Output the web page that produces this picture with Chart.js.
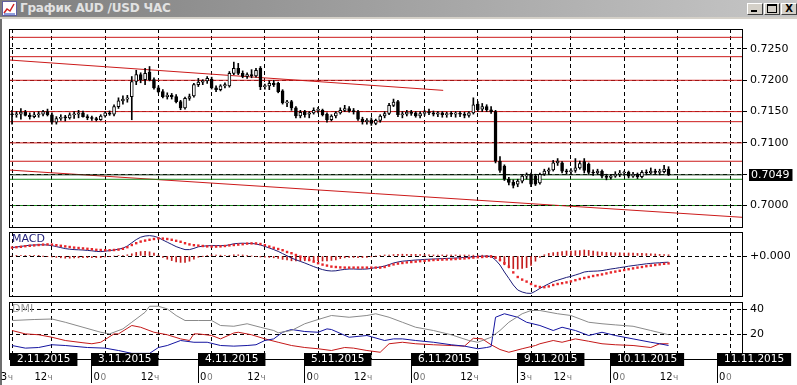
<!DOCTYPE html>
<html>
<head>
<meta charset="utf-8">
<title>AUD/USD H1</title>
<script src="https://cdn.jsdelivr.net/npm/chart.js@4.4.1/dist/chart.umd.min.js"></script>
<style>
  html, body { margin: 0; padding: 0; background: #fff; }
  #wrap { position: relative; width: 797px; height: 385px; overflow: hidden; background: #fff; }
  #wrap canvas { position: absolute; left: 0; top: 0; }
  #titlebar { position: absolute; left: 0; top: 0; width: 797px; height: 17px;
    background: linear-gradient(to right, #7e7e7e, #c6c6c6); border-bottom: 2px solid #d4d0c8; }
  #titlebar .caption { position: absolute; left: 20px; top: 1px; font: bold 12px "DejaVu Sans", sans-serif;
    color: #e2e2e2; white-space: nowrap; letter-spacing: -0.2px; }
  #icon { position: absolute; left: 2px; top: 1px; }
  .btn { position: absolute; top: 3px; width: 14px; height: 10px; background: #d4d0c8;
    border-top: 1px solid #fff; border-left: 1px solid #fff; border-right: 1px solid #404040; border-bottom: 1px solid #404040; }
  .btn.min i { position: absolute; left: 3px; top: 6px; width: 6px; height: 2px; background: #000; }
  .btn.max i { position: absolute; left: 2px; top: 0px; width: 8px; height: 6px; border: 1px solid #000; border-top-width: 2px; }
  .btn.cls { font: bold 10px "DejaVu Sans", sans-serif; line-height: 10px; text-align: center; color: #000; }
  #edge { position: absolute; left: 0; top: 19px; width: 2px; height: 366px; background: #6e6e6e; }
</style>
</head>
<body>
<div id="wrap">
  <div id="titlebar">
    <svg id="icon" width="15" height="15" viewBox="0 0 15 15">
      <rect x="0.5" y="0.5" width="14" height="14" fill="#fff" stroke="#6060a0"/>
      <polyline points="2,12 5,8 8,10 12,3" fill="none" stroke="#d02020" stroke-width="1.5"/>
      <polyline points="2,13 13,13" stroke="#2040c0" stroke-width="1"/>
    </svg>
    <span class="caption">График AUD /USD ЧАС</span>
    <div class="btn min" style="left:747px"><i></i></div>
    <div class="btn max" style="left:764px"><i></i></div>
    <div class="btn cls" style="left:781px">X</div>
  </div>
  <div id="edge"></div>
  <canvas id="main" width="797" height="385"></canvas>
  <canvas id="macd" width="797" height="385"></canvas>
  <canvas id="dmi" width="797" height="385"></canvas>
</div>
<script>
// hourly bars, 2.11.2015 03:00 .. 10.11.2015 10:00, [open, high, low, close]
const ohlc = [
  [0.7146,0.7152,0.7130,0.7145],[0.7145,0.7150,0.7141,0.7146],[0.7146,0.7155,0.7138,0.7149],[0.7149,0.7152,0.7143,0.7144],[0.7144,0.7148,0.7138,0.7142],
  [0.7142,0.7149,0.7140,0.7145],[0.7145,0.7150,0.7141,0.7146],[0.7146,0.7152,0.7143,0.7150],[0.7150,0.7154,0.7143,0.7145],[0.7145,0.7148,0.7130,0.7133],
  [0.7133,0.7142,0.7130,0.7139],[0.7139,0.7145,0.7136,0.7141],[0.7141,0.7144,0.7135,0.7140],[0.7140,0.7148,0.7138,0.7145],[0.7145,0.7150,0.7139,0.7146],
  [0.7146,0.7152,0.7140,0.7148],[0.7148,0.7151,0.7141,0.7142],[0.7142,0.7145,0.7137,0.7140],[0.7140,0.7143,0.7136,0.7139],[0.7139,0.7141,0.7135,0.7137],
  [0.7137,0.7145,0.7136,0.7143],[0.7143,0.7150,0.7141,0.7148],[0.7148,0.7151,0.7144,0.7146],[0.7146,0.7161,0.7143,0.7158],[0.7158,0.7172,0.7155,0.7167],
  [0.7167,0.7175,0.7162,0.7170],[0.7170,0.7176,0.7165,0.7172],[0.7174,0.7206,0.7137,0.7198],[0.7198,0.7216,0.7193,0.7209],[0.7209,0.7212,0.7196,0.7201],
  [0.7201,0.7219,0.7193,0.7211],[0.7213,0.7222,0.7199,0.7201],[0.7201,0.7204,0.7186,0.7188],[0.7188,0.7191,0.7180,0.7182],[0.7182,0.7185,0.7172,0.7174],
  [0.7174,0.7180,0.7170,0.7176],[0.7176,0.7179,0.7170,0.7174],[0.7174,0.7177,0.7164,0.7166],[0.7166,0.7168,0.7153,0.7156],[0.7156,0.7173,0.7154,0.7171],
  [0.7171,0.7178,0.7168,0.7174],[0.7175,0.7195,0.7173,0.7193],[0.7193,0.7203,0.7190,0.7197],[0.7197,0.7201,0.7193,0.7199],[0.7199,0.7206,0.7195,0.7203],
  [0.7202,0.7205,0.7186,0.7188],[0.7188,0.7191,0.7182,0.7185],[0.7185,0.7193,0.7183,0.7191],[0.7191,0.7196,0.7188,0.7193],[0.7191,0.7214,0.7189,0.7211],
  [0.7211,0.7229,0.7209,0.7219],[0.7219,0.7227,0.7209,0.7211],[0.7211,0.7215,0.7204,0.7206],[0.7206,0.7212,0.7203,0.7209],[0.7209,0.7217,0.7204,0.7207],
  [0.7207,0.7219,0.7205,0.7216],[0.7219,0.7222,0.7185,0.7190],[0.7190,0.7194,0.7186,0.7191],[0.7191,0.7199,0.7185,0.7195],[0.7195,0.7200,0.7190,0.7193],
  [0.7195,0.7197,0.7180,0.7182],[0.7183,0.7185,0.7162,0.7164],[0.7164,0.7168,0.7158,0.7165],[0.7166,0.7168,0.7152,0.7156],[0.7156,0.7158,0.7140,0.7143],
  [0.7143,0.7152,0.7140,0.7149],[0.7150,0.7152,0.7141,0.7145],[0.7146,0.7150,0.7140,0.7148],[0.7148,0.7156,0.7146,0.7152],[0.7152,0.7157,0.7148,0.7153],
  [0.7152,0.7154,0.7143,0.7145],[0.7146,0.7148,0.7133,0.7137],[0.7137,0.7145,0.7135,0.7143],[0.7143,0.7150,0.7140,0.7148],[0.7148,0.7156,0.7146,0.7152],
  [0.7152,0.7160,0.7150,0.7155],[0.7155,0.7158,0.7149,0.7151],[0.7151,0.7155,0.7146,0.7150],[0.7150,0.7152,0.7136,0.7138],[0.7138,0.7141,0.7130,0.7134],
  [0.7134,0.7139,0.7130,0.7136],[0.7137,0.7140,0.7128,0.7131],[0.7131,0.7138,0.7129,0.7136],[0.7136,0.7145,0.7133,0.7143],[0.7143,0.7150,0.7140,0.7147],
  [0.7147,0.7163,0.7145,0.7160],[0.7160,0.7170,0.7158,0.7165],[0.7166,0.7168,0.7142,0.7145],[0.7145,0.7150,0.7140,0.7146],[0.7146,0.7152,0.7143,0.7149],
  [0.7149,0.7152,0.7144,0.7147],[0.7148,0.7150,0.7141,0.7143],[0.7143,0.7150,0.7140,0.7147],[0.7147,0.7152,0.7144,0.7149],[0.7149,0.7154,0.7145,0.7148],
  [0.7148,0.7151,0.7143,0.7146],[0.7146,0.7150,0.7142,0.7148],[0.7148,0.7150,0.7141,0.7145],[0.7145,0.7149,0.7141,0.7147],[0.7147,0.7150,0.7142,0.7146],
  [0.7146,0.7150,0.7141,0.7147],[0.7147,0.7150,0.7142,0.7146],[0.7146,0.7149,0.7140,0.7144],[0.7144,0.7150,0.7141,0.7148],[0.7148,0.7172,0.7146,0.7161],
  [0.7162,0.7166,0.7150,0.7153],[0.7154,0.7163,0.7150,0.7158],[0.7158,0.7161,0.7150,0.7153],[0.7153,0.7158,0.7147,0.7150],[0.7150,0.7152,0.7068,0.7071],
  [0.7071,0.7078,0.7053,0.7056],[0.7063,0.7065,0.7040,0.7042],[0.7042,0.7045,0.7033,0.7037],[0.7037,0.7041,0.7028,0.7032],[0.7034,0.7042,0.7030,0.7039],
  [0.7039,0.7050,0.7036,0.7047],[0.7047,0.7052,0.7042,0.7048],[0.7050,0.7052,0.7030,0.7034],[0.7047,0.7050,0.7032,0.7034],[0.7036,0.7052,0.7034,0.7050],
  [0.7050,0.7058,0.7048,0.7055],[0.7055,0.7060,0.7050,0.7057],[0.7057,0.7072,0.7055,0.7068],[0.7068,0.7075,0.7064,0.7071],[0.7068,0.7070,0.7052,0.7055],
  [0.7055,0.7058,0.7050,0.7054],[0.7054,0.7059,0.7050,0.7056],[0.7056,0.7075,0.7053,0.7060],[0.7060,0.7071,0.7058,0.7067],[0.7070,0.7075,0.7052,0.7056],
  [0.7066,0.7068,0.7050,0.7053],[0.7053,0.7057,0.7048,0.7052],[0.7052,0.7058,0.7050,0.7055],[0.7055,0.7057,0.7044,0.7047],[0.7047,0.7050,0.7041,0.7045],
  [0.7045,0.7050,0.7042,0.7047],[0.7047,0.7054,0.7045,0.7050],[0.7050,0.7056,0.7046,0.7052],[0.7052,0.7055,0.7048,0.7053],[0.7053,0.7055,0.7044,0.7047],
  [0.7047,0.7053,0.7045,0.7050],[0.7050,0.7052,0.7043,0.7046],[0.7046,0.7056,0.7044,0.7053],[0.7053,0.7057,0.7049,0.7052],[0.7052,0.7060,0.7050,0.7055],
  [0.7055,0.7058,0.7050,0.7053],[0.7053,0.7058,0.7049,0.7054],[0.7054,0.7064,0.7052,0.7058],[0.7058,0.7062,0.7048,0.7049]
];

// user lines on the price chart
const redLevels = [0.72686, 0.72377, 0.7200, 0.7150, 0.71339, 0.7100, 0.70707];
const greenLevel = 0.70419;
const dashedLevel = 0.7000;
const trendUpper = [[-0.68, 0.72324], [97.2, 0.71839]];
const trendLower = [[-0.68, 0.70567], [164.56, 0.69812]];
const priceTicks = [0.7000, 0.7050, 0.7100, 0.7150, 0.7200, 0.7250];

// MACD (in points, 1e-5)
const macdMain = [
  42,45,48,51,54,55,56,56,55,52, 47,42,37,34,32,31,30,28,26,23,
  22,24,27,30,34,39,50,66,82,94, 100,102,99,92,80,69,58,47,39,32,
  32,38,46,49,51,52,52,52,52,56, 61,63,64,63,63,60,55,48,40,32,
  23,12,1,-10,-19,-27,-35,-44,-53,-61, -68,-73,-75,-74,-70,-67,-65,-65,-66,-66,
  -65,-62,-58,-55,-50,-43,-35,-30,-26,-24, -22,-20,-19,-17,-16,-15,-14,-13,-12,-11,
  -10,-9,-7,-6,-4,-2,-1,0,-2,-20, -45,-80,-112,-145,-170,-180,-186,-187,-176,-162,
  -150,-139,-128,-121,-114,-107,-102,-95,-88,-80, -77,-76,-75,-73,-69,-65,-62,-58,-55,-51,
  -48,-45,-42,-39,-37,-35,-34,-32,-31
];
const macdSignal = [
  42,44,46,49,51,53,55,57,58,57, 54,51,48,45,42,40,38,36,34,31,
  30,29,29,30,32,36,44,55,64,72, 77,81,85,88,87,85,81,76,71,64,
  58,54,52,50,48,47,47,48,50,53, 55,57,59,62,63,63,60,54,47,41,
  35,29,20,14,5,-3,-11,-20,-28,-36, -43,-48,-53,-55,-57,-58,-58,-58,-58,-58,
  -58,-58,-58,-58,-55,-48,-42,-38,-35,-32, -30,-28,-26,-24,-22,-20,-19,-18,-17,-16,
  -15,-13,-12,-10,-8,-6,-5,-3,-3,-8, -20,-36,-53,-82,-105,-118,-128,-140,-150,-155,
  -156,-152,-145,-140,-136,-132,-127,-121,-115,-110, -105,-100,-96,-92,-87,-82,-78,-74,-70,-66,
  -62,-58,-55,-51,-48,-45,-42,-39,-37
];
const macdHist = [
  0,1,2,2,3,2,1,-1,-3,-5, -7,-9,-11,-11,-10,-9,-8,-8,-8,-8,
  -8,-5,-2,0,2,3,6,11,18,22, 23,21,14,4,-7,-16,-23,-29,-32,-32,
  -26,-16,-6,-1,3,5,5,4,2,3, 6,6,5,1,0,-3,-5,-6,-7,-9,
  -12,-17,-19,-24,-24,-24,-24,-24,-25,-25, -25,-25,-22,-19,-13,-9,-7,-7,-8,-8,
  -7,-4,0,3,5,5,7,8,9,8, 8,8,7,7,6,5,5,5,5,5,
  5,4,5,4,4,4,4,3,1,-12, -25,-44,-59,-63,-65,-62,-58,-47,-26,-7,
  6,13,17,19,22,25,25,26,27,30, 28,24,21,19,18,17,16,16,15,15,
  14,13,13,12,11,10,8,7,6
];

// DMI [bar, value]
const adx = [[0,30.8],[5,31.6],[9,32],[12,29.4],[16,25.4],[20,21.4],[22,20.1],[25,24.1],[27,29.4],[30,37.4],[31,42.2],[33,42.2],[35,40.1],[37,34.8],[39,30.8],[42,30.8],[45,30.8],[47,26.8],[50,26.2],[53,28.2],[56,25.4],[59,22.8],[60,21],[63,22.8],[66,28.2],[69,31.6],[72,34.8],[76,33.4],[80,34.8],[82,36.2],[85,33.4],[88,29.4],[91,25.4],[95,22.8],[99,19.4],[103,14.8],[105,13.4],[108,17.4],[110,22.8],[112,29.4],[115,36.2],[117,38.8],[119,38.8],[123,36.2],[126,34.8],[130,29.4],[133,28.2],[136,27.3],[140,26.2],[144,22.8],[148,19.4]];
const plusDI = [[0,10.8],[3,8.7],[6,9.2],[9,11.4],[12,10.8],[17,9.2],[21,8.7],[24,6.8],[27,4.5],[31,4.5],[33,9.2],[35,10.8],[38,14.8],[41,13.4],[44,13.4],[47,10.8],[50,10.3],[53,10.8],[55,11.4],[57,14.8],[59,16.1],[61,21.4],[63,23.6],[66,22],[69,21.4],[71,24.1],[72,23.6],[76,17.4],[80,18.8],[84,14.8],[86,16.1],[88,16.1],[91,14.8],[95,13.4],[99,11.4],[102,10.3],[105,8.2],[107,9.2],[108,10],[109,33.4],[111,36.2],[114,33.4],[116,29.4],[119,26.8],[122,22.8],[124,25.4],[127,22.8],[130,18.8],[133,21.4],[136,18.8],[140,16.1],[144,13.4],[146,12.2],[148,10.8]];
const minusDI = [[0,22.8],[3,20.1],[6,19.4],[9,17.4],[12,14.8],[16,13],[18,12.2],[20,13.4],[23,20.1],[24,20.1],[27,26.8],[29,25.4],[32,21.4],[35,19.4],[38,16.1],[40,14.8],[41,20.1],[42,20.1],[45,18.8],[47,16.1],[50,20.8],[51,21.4],[54,19.4],[57,16.1],[60,13.4],[63,10.8],[66,9.2],[69,8.2],[72,6.8],[75,9.2],[77,8.7],[80,6.8],[83,5.4],[85,12.2],[88,13.4],[91,12.2],[95,11.4],[99,10.8],[102,10.3],[104,16.6],[106,16.1],[108,11.4],[110,7.6],[112,5.4],[115,8.2],[118,10.8],[119,12.2],[122,14.8],[124,13.4],[127,16.1],[130,14.2],[133,12.2],[136,11.4],[140,10.8],[144,9.2],[146,12.2],[148,12.2]];

// time axis
const gridIdx = [0, 9, 21, 33, 45, 57, 69, 81, 93, 105, 117, 126, 138, 150, 162];
const timeLabels = ['3ч','12ч','00','12ч','00','12ч','00','12ч','00','12ч','3ч','12ч','00','12ч','00'];
const dayStart = [0, 21, 45, 69, 93, 117, 138, 162];
const dayLabels = ['2.11.2015','3.11.2015','4.11.2015','5.11.2015','6.11.2015','9.11.2015','10.11.2015','11.11.2015'];

const lastPrice = ohlc[ohlc.length - 1][3];
const X_MIN = -0.68, X_MAX = 164.56;
const RED = '#cc1a1a';
const FONT = '"DejaVu Sans", sans-serif';

Chart.defaults.font.family = FONT;
Chart.defaults.font.size = 11;
Chart.defaults.color = '#000';

const xAxis = () => ({
  type: 'linear', min: X_MIN, max: X_MAX, offset: false,
  afterBuildTicks: s => { s.ticks = gridIdx.map(v => ({ value: v })); },
  afterFit: s => { s.height = 0; },
  ticks: { display: false },
  grid: { color: '#000', drawTicks: false, offset: false },
  border: { display: false, dash: [4, 3] }
});
const yAxis = (min, max, ticks, fmt) => ({
  position: 'right', min, max,
  afterBuildTicks: s => { s.ticks = ticks.map(v => ({ value: v })); },
  afterFit: s => { s.width = 55; },
  ticks: { callback: fmt, padding: 3, color: '#000', font: { size: 11 } },
  grid: { color: '#000', tickLength: 5, tickColor: '#000' },
  border: { display: false, dash: [4, 3] }
});
const base = (padTop, padBottom) => ({
  responsive: false, animation: false, devicePixelRatio: 1, events: [],
  layout: { padding: { left: 9, right: 0, top: padTop, bottom: padBottom } },
});

// frame round each pane + pane caption
const frame = {
  id: 'frame',
  afterDraw(chart, args, opts) {
    const { ctx, chartArea: a } = chart;
    ctx.save();
    ctx.strokeStyle = '#000';
    ctx.lineWidth = 1;
    ctx.strokeRect(a.left + 0.5, a.top + 0.5, a.right - a.left, a.bottom - a.top);
    if (opts.label) {
      ctx.fillStyle = opts.color;
      ctx.font = '11px ' + FONT;
      ctx.textBaseline = 'top';
      ctx.fillText(opts.label, a.left + 3, a.top + 2);
    }
    ctx.restore();
  }
};

const priceTag = {
  id: 'priceTag',
  afterDraw(chart) {
    const { ctx, chartArea: a, scales: { y } } = chart;
    const py = Math.round(y.getPixelForValue(lastPrice));
    const txt = lastPrice.toFixed(4);
    ctx.save();
    ctx.font = '11px ' + FONT;
    const w = ctx.measureText(txt).width;
    ctx.fillStyle = '#000';
    ctx.fillRect(a.right + 7, py - 6, w + 5, 12);
    ctx.fillStyle = '#fff';
    ctx.textBaseline = 'middle';
    ctx.fillText(txt, a.right + 9, py + 0.5);
    ctx.restore();
  }
};

const timeAxis = {
  id: 'timeAxis',
  afterDraw(chart) {
    const { ctx, chartArea: a, scales: { x } } = chart;
    ctx.save();
    const baseY = a.bottom + 21;
    gridIdx.forEach((idx, k) => {
      const px = x.getPixelForValue(idx) + 1;
      const lab = timeLabels[k];
      const head = lab.slice(0, -1), tail = lab.slice(-1);
      ctx.textBaseline = 'alphabetic';
      ctx.textAlign = 'right';
      ctx.font = '9px ' + FONT;
      const tw = ctx.measureText(tail).width;
      ctx.fillStyle = '#7a7a7a';
      ctx.fillText(tail, px, baseY);
      ctx.font = '10px ' + FONT;
      ctx.fillStyle = '#000';
      ctx.fillText(head, px - tw - 0.5, baseY);
    });
    ctx.textAlign = 'left';
    ctx.textBaseline = 'middle';
    ctx.font = '10.5px ' + FONT;
    dayStart.forEach((idx, k) => {
      const bx = Math.max(Math.round(x.getPixelForValue(idx)) - 14, a.left + 1);
      const w = ctx.measureText(dayLabels[k]).width;
      ctx.fillStyle = '#000';
      ctx.fillRect(bx, a.bottom - 6, w + 14, 13);
      if (k > 0) ctx.fillRect(bx, a.bottom + 7, 1, 17);
      ctx.fillStyle = '#fff';
      ctx.fillText(dayLabels[k], bx + 7, a.bottom + 0.5);
    });
    ctx.restore();
  }
};

const hline = p => [{ x: X_MIN, y: p }, { x: X_MAX, y: p }];
const seg = pts => pts.map(([x, y]) => ({ x, y }));
const lineDs = (data, color, extra) => Object.assign({
  type: 'line', data, borderColor: color, borderWidth: 1, pointRadius: 0, tension: 0, fill: false
}, extra || {});

new Chart(document.getElementById('main'), {
  type: 'bar',
  data: {
    datasets: [
      {
        type: 'bar', order: 0, grouped: false,
        data: ohlc.map((c, i) => ({ x: i, y: [c[0], c[3]] })),
        backgroundColor: ohlc.map(c => c[3] >= c[0] ? '#fff' : '#000'),
        borderColor: '#000', borderWidth: 1, borderSkipped: false,
        barThickness: 3, maxBarThickness: 3, minBarLength: 1
      },
      {
        type: 'bar', order: 1, grouped: false,
        data: ohlc.map((c, i) => ({ x: i, y: [c[2], c[1]] })),
        backgroundColor: '#000', borderWidth: 0,
        barThickness: 1, maxBarThickness: 1
      },
      lineDs(hline(lastPrice), '#0c2a0c', { order: 2 }),
      lineDs(hline(greenLevel), '#1a8a1a', { order: 3 }),
      lineDs(hline(dashedLevel), '#1a8a1a', { order: 3, borderDash: [3, 4], borderDashOffset: 3 }),
      ...redLevels.map(p => lineDs(hline(p), RED, { order: 4 })),
      lineDs(seg(trendUpper), RED, { order: 4 }),
      lineDs(seg(trendLower), RED, { order: 4 })
    ]
  },
  options: Object.assign(base(29, 158), {
    plugins: { legend: { display: false }, tooltip: { enabled: false }, frame: {} },
    scales: {
      x: xAxis(),
      y: yAxis(0.69657, 0.72819, priceTicks, (v, i) => i === 1 ? '' : v.toFixed(4))
    }
  }),
  plugins: [frame, priceTag]
});

new Chart(document.getElementById('macd'), {
  type: 'bar',
  data: {
    datasets: [
      lineDs(macdSignal.map((v, i) => ({ x: i, y: v })), '#e8262a', {
        order: 0, showLine: false, pointRadius: 1.7, pointStyle: 'rect',
        pointBackgroundColor: '#e8262a', pointBorderWidth: 0
      }),
      lineDs(macdMain.map((v, i) => ({ x: i, y: v })), '#1c1c78', { order: 1 }),
      {
        type: 'bar', order: 2,
        data: macdHist.map((v, i) => ({ x: i, y: v })),
        backgroundColor: '#c41e1e', barThickness: 1, maxBarThickness: 1
      }
    ]
  },
  options: Object.assign(base(232, 89), {
    plugins: { legend: { display: false }, tooltip: { enabled: false }, frame: { label: 'MACD', color: '#22227a' } },
    scales: {
      x: xAxis(),
      y: yAxis(-200, 120, [0], () => '+0.000')
    }
  }),
  plugins: [frame]
});

new Chart(document.getElementById('dmi'), {
  type: 'line',
  data: {
    datasets: [
      lineDs(seg(adx), '#8a8a8a'),
      lineDs(seg(plusDI), '#1414a0'),
      lineDs(seg(minusDI), '#c41818')
    ]
  },
  options: Object.assign(base(302, 26), {
    plugins: { legend: { display: false }, tooltip: { enabled: false }, frame: { label: 'DMI', color: '#9a9a9a' } },
    scales: {
      x: xAxis(),
      y: yAxis(0, 45.6, [20, 40], v => String(v))
    }
  }),
  plugins: [frame, timeAxis]
});
</script>
</body>
</html>
